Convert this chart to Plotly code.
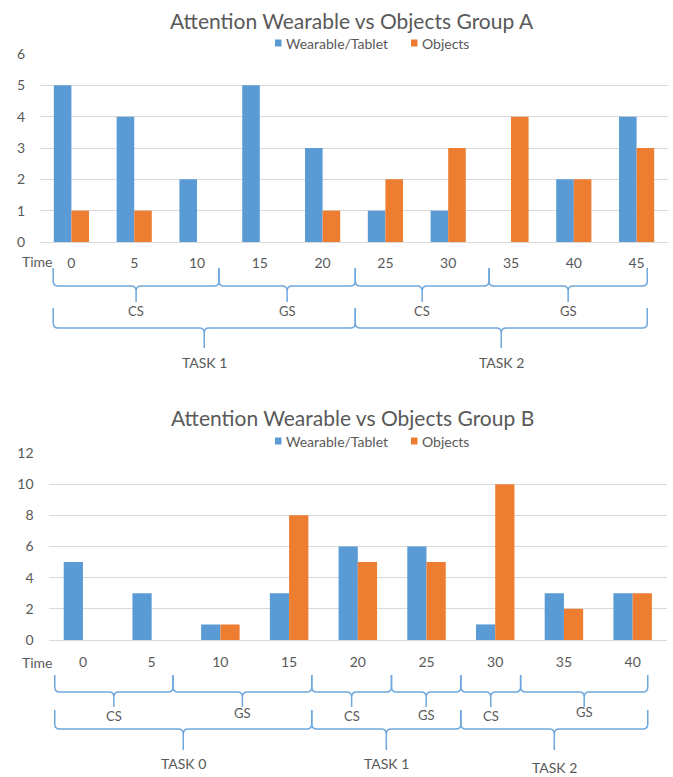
import plotly.graph_objects as go

# ---- data ---------------------------------------------------------------
times_a = ["0", "5", "10", "15", "20", "25", "30", "35", "40", "45"]
wearable_a = [5, 4, 2, 5, 3, 1, 1, 0, 2, 4]
objects_a = [1, 1, 0, 0, 1, 2, 3, 4, 2, 3]

times_b = ["0", "5", "10", "15", "20", "25", "30", "35", "40"]
wearable_b = [5, 3, 1, 3, 6, 6, 1, 3, 3]
objects_b = [0, 0, 1, 8, 5, 5, 10, 2, 3]

# phase spans along the time axis (in category units): start, end, label
phases_a = [(-0.29, 2.35, "CS"), (2.35, 4.52, "GS"), (4.52, 6.65, "CS"), (6.65, 9.17, "GS")]
tasks_a = [(-0.29, 4.52, "TASK 1"), (4.52, 9.17, "TASK 2")]
phases_b = [(-0.41, 1.31, "CS"), (1.31, 3.33, "GS"), (3.33, 4.49, "CS"),
            (4.49, 5.50, "GS"), (5.50, 6.37, "CS"), (6.37, 8.22, "GS")]
tasks_b = [(-0.41, 3.33, "TASK 0"), (3.33, 5.50, "TASK 1"), (5.50, 8.22, "TASK 2")]

# ---- styling ------------------------------------------------------------
W, H = 673, 777
BLUE = "#5B9BD5"
ORANGE = "#ED7D31"
BRACE = "#6FA8DC"
GRID = "#D9D9D9"
TXT = "#595959"
FONT = "Lato"


def py(p):
    """pixel row -> paper y"""
    return 1 - p / H


def px(p):
    """pixel column -> paper x"""
    return p / W


fig = go.Figure()

panels = [
    dict(times=times_a, wear=wearable_a, obj=objects_a, xa="x", ya="y",
         xdom=(40, 668), ydom=(54, 242), ymax=6, dtick=1, xstand=11,
         title="Attention Wearable vs Objects Group A", title_y=20, legend_y=43,
         time_y=262, phases=phases_a, tasks=tasks_a,
         lvl1=(268, 286, 302), lvl1_lab=[311] * 4, lvl2=(308, 328, 348), lvl2_lab=[362, 362]),
    dict(times=times_b, wear=wearable_b, obj=objects_b, xa="x2", ya="y2",
         xdom=(48.6, 667), ydom=(453, 640), ymax=12, dtick=2, xstand=12,
         title="Attention Wearable vs Objects Group B", title_y=418, legend_y=441,
         time_y=662, phases=phases_b, tasks=tasks_b,
         lvl1=(675, 692, 707), lvl1_lab=[716, 713, 716, 715, 716, 712],
         lvl2=(710, 729, 750), lvl2_lab=[763, 763, 767]),
]

annotations = []
shapes = []


def brace(x0, x1, top, mid, tip, xref, unit):
    """curly bracket path (x in data units, y in paper units)"""
    rx = 5 / unit
    ry = 5
    xm = (x0 + x1) / 2
    yt, ym, yp = py(top), py(mid), py(tip)
    ymr = py(mid - ry)
    ymd = py(mid + ry)
    path = (f"M{x0},{yt} L{x0},{ymr} Q{x0},{ym} {x0 + rx},{ym} "
            f"L{xm - rx},{ym} Q{xm},{ym} {xm},{ymd} L{xm},{yp} "
            f"M{xm},{ymd} Q{xm},{ym} {xm + rx},{ym} "
            f"L{x1 - rx},{ym} Q{x1},{ym} {x1},{ymr} L{x1},{yt}")
    return dict(type="path", path=path, xref=xref, yref="paper",
                line=dict(color=BRACE, width=1.5), layer="above")


for i, p in enumerate(panels):
    idx = list(range(len(p["times"])))
    fig.add_trace(go.Bar(x=idx, y=p["wear"], name="Wearable/Tablet",
                         marker=dict(color=BLUE, line=dict(width=0)),
                         xaxis=p["xa"], yaxis=p["ya"], showlegend=False))
    fig.add_trace(go.Bar(x=idx, y=p["obj"], name="Objects",
                         marker=dict(color=ORANGE, line=dict(width=0)),
                         xaxis=p["xa"], yaxis=p["ya"], showlegend=False))

    suffix = "" if i == 0 else "2"
    n = len(p["times"])
    xd0, xd1 = p["xdom"]
    unit = (xd1 - xd0) / n
    fig.update_layout({
        f"xaxis{suffix}": dict(
            domain=[px(xd0), px(xd1)], range=[-0.5, n - 0.5],
            tickvals=idx, ticktext=p["times"], showgrid=False, zeroline=False,
            showline=False, ticks="", ticklabelstandoff=p["xstand"], automargin=False,
            tickfont=dict(family=FONT, size=14, color=TXT),
            anchor=p["ya"], fixedrange=True),
        f"yaxis{suffix}": dict(
            domain=[py(p["ydom"][1]), py(p["ydom"][0])], range=[0, p["ymax"]],
            dtick=p["dtick"], showgrid=True, gridcolor=GRID, gridwidth=1,
            zeroline=True, zerolinecolor=GRID, zerolinewidth=1,
            showline=False, ticks="", ticklabelstandoff=14, automargin=False,
            tickfont=dict(family=FONT, size=14, color=TXT),
            anchor=p["xa"], fixedrange=True),
    })

    xref = p["xa"]
    # title
    annotations.append(dict(text=p["title"], x=px(352), y=py(p["title_y"]),
                            xref="paper", yref="paper", showarrow=False,
                            xanchor="center", yanchor="middle",
                            font=dict(family=FONT, size=21, color=TXT)))
    # legend keys
    ly = p["legend_y"]
    for kx, tx, col, label in [(275, 284, BLUE, "Wearable/Tablet"),
                               (411, 420, ORANGE, "Objects")]:
        shapes.append(dict(type="rect", xref="paper", yref="paper",
                           x0=px(kx), x1=px(kx + 6.5), y0=py(ly + 3.5), y1=py(ly - 3.5),
                           fillcolor=col, line=dict(width=0)))
        annotations.append(dict(text=label, x=px(tx), y=py(ly), xref="paper", yref="paper",
                                showarrow=False, xanchor="left", yanchor="middle",
                                font=dict(family=FONT, size=14, color=TXT)))
    # "Time" row label
    annotations.append(dict(text="Time", x=px(20), y=py(p["time_y"]), xref="paper",
                            yref="paper", showarrow=False, xanchor="left",
                            yanchor="middle", font=dict(family=FONT, size=14, color=TXT)))
    # phase brackets
    t, m, b = p["lvl1"]
    for (x0, x1, lab), ly1 in zip(p["phases"], p["lvl1_lab"]):
        shapes.append(brace(x0, x1, t, m, b, xref, unit))
        annotations.append(dict(text=lab, x=(x0 + x1) / 2, y=py(ly1), xref=xref,
                                yref="paper", showarrow=False, xanchor="center",
                                yanchor="middle", font=dict(family=FONT, size=13, color=TXT)))
    # task brackets
    t, m, b = p["lvl2"]
    for (x0, x1, lab), ly2 in zip(p["tasks"], p["lvl2_lab"]):
        shapes.append(brace(x0, x1, t, m, b, xref, unit))
        annotations.append(dict(text=lab, x=(x0 + x1) / 2, y=py(ly2), xref=xref,
                                yref="paper", showarrow=False, xanchor="center",
                                yanchor="middle", font=dict(family=FONT, size=14, color=TXT)))

fig.update_layout(
    width=W, height=H,
    margin=dict(l=0, r=0, t=0, b=0),
    paper_bgcolor="white", plot_bgcolor="white",
    barmode="group", bargap=0.44, bargroupgap=0,
    showlegend=False,
    annotations=annotations, shapes=shapes,
)

fig.write_html("out.html")
